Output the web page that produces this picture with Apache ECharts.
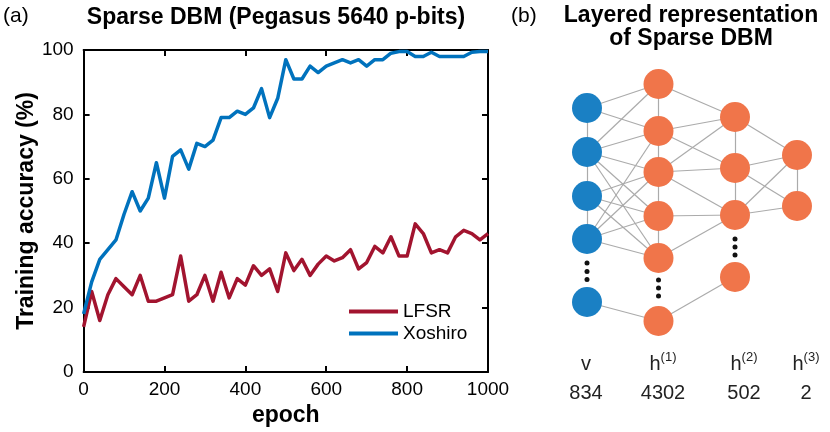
<!DOCTYPE html>
<html><head><meta charset="utf-8">
<script src="https://cdn.jsdelivr.net/npm/echarts@6/dist/echarts.min.js"></script>
<style>html,body{margin:0;padding:0;background:#fff}#c{width:830px;height:432px}</style>
</head><body><div id="c"></div>
<script>
// ---------- Panel (a) data ----------
const epochs = [0,20,40,60,80,100,120,140,160,180,200,220,240,260,280,300,320,340,360,380,400,420,440,460,480,500,520,540,560,580,600,620,640,660,680,700,720,740,760,780,800,820,840,860,880,900,920,940,960,980,1000];
const lfsr = [14,25,16,24,29,26.5,24,30,22,22,23,24,36,22,24,30,22,31,23,29,27,33,30,32,25,37,31.5,35,30,33.5,36,34.5,35.5,38,32,34,39,37,42,36,36,46,43,37,38,37,42,44,43,41,43];
const xoshiro = [18,28,35,38,41,49,56,50,54,65,54,67,69,63,71,70,72,79,79,81,80,82,88,79,85,97,91,91,95,93,95,96,97,96,97,95,97,97,99,99.5,99.5,98,98,99.3,98,98,98,98,99.3,99.5,99.5];
const seriesNames = ['LFSR','Xoshiro'];

// ---------- Panel (b) data ----------
const layerNames = ['v','h','h','h'];
const layerSup = ['','(1)','(2)','(3)'];
const layerSizes = ['834','4302','502','2'];
// edges: [layerA, nodeA, layerB, nodeB]
const edges = [
  [0,0,0,1],[0,1,0,2],[0,2,0,3],
  [1,0,1,1],[1,1,1,2],[1,2,1,3],[1,3,1,4],
  [2,0,2,1],[2,1,2,2],[3,0,3,1],
  [0,0,1,0],[0,0,1,1],[0,1,1,0],[0,1,1,1],[0,1,1,2],[0,1,1,3],[0,1,1,4],
  [0,2,1,2],[0,2,1,3],[0,2,1,4],[0,3,1,1],[0,3,1,2],[0,3,1,3],[0,3,1,4],[0,4,1,5],
  [1,0,2,0],[1,1,2,0],[1,1,2,1],[1,2,2,0],[1,2,2,1],[1,2,2,2],[1,3,2,2],[1,4,2,2],[1,5,2,3],
  [2,0,3,0],[2,1,3,0],[2,1,3,1],[2,2,3,0],[2,2,3,1]
];

// ---------- Diagram layout (diagram units) ----------
const layerX = [27, 98.5, 175, 237];
const layerNodeY = [[48,92,136,179,242],[24,71,112,156,198,261],[57,108,155,217],[95,146]];
const ellipsisLayers = [0,1,2];
const ellipsisY = [[203,211.5,219.5],[220,228,236],[179,187,195]];
const labelX = [26, 103, 184, 246];
const labelY = 319;

const FONT = 'Liberation Sans';
const BLUE_NODE = '#1A80C4', ORANGE_NODE = '#F0754A';
const colors = {LFSR:'#A2142F', Xoshiro:'#0072BD'};

const nodes = [], idx = {};
layerNodeY.forEach((ys,l)=>ys.forEach((y,k)=>{
  idx[l+'-'+k] = nodes.length;
  nodes.push({value:[layerX[l], y], itemStyle:{color: l===0 ? BLUE_NODE : ORANGE_NODE, opacity:1}});
}));
const links = edges.map(e=>({source: idx[e[0]+'-'+e[1]], target: idx[e[2]+'-'+e[3]]}));
const dots = [];
ellipsisLayers.forEach((l,i)=>ellipsisY[i].forEach(y=>dots.push([layerX[l], y])));

const axisLineStyle = {color:'#000', width:2};
function boxAxis(extra){
  return Object.assign({
    gridIndex:0, type:'value',
    axisLine:{show:true, onZero:false, lineStyle:axisLineStyle},
    axisTick:{show:true, inside:true, length:6, lineStyle:{color:'#000', width:2}},
    splitLine:{show:false}
  }, extra);
}

const chart = echarts.init(document.getElementById('c'), null, {renderer:'canvas'});
chart.setOption({
  animation:false,
  backgroundColor:'#fff',
  textStyle:{fontFamily:FONT},
  title:[
    {text:'(a)', left:3, top:6, padding:0, textStyle:{fontFamily:FONT, fontSize:21, fontWeight:'normal', color:'#000'}},
    {text:'Sparse DBM (Pegasus 5640 p-bits)', left:276, top:6, padding:0, textAlign:'center', textStyle:{fontFamily:FONT, fontSize:23, fontWeight:'bold', color:'#000'}},
    {text:'(b)', left:511, top:6, padding:0, textStyle:{fontFamily:FONT, fontSize:21, fontWeight:'normal', color:'#000'}},
    {text:'Layered representation\nof Sparse DBM', left:691, top:4, padding:0, textAlign:'center', textStyle:{fontFamily:FONT, fontSize:23, fontWeight:'bold', color:'#000', lineHeight:23}}
  ],
  legend:{
    data:seriesNames, orient:'vertical', left:349, top:302, padding:0,
    itemWidth:49, itemHeight:4, itemGap:3, icon:'rect',
    textStyle:{fontFamily:FONT, fontSize:19, color:'#000'}
  },
  grid:[
    {left:65, top:50, width:423, height:322},
    {left:560, top:60, width:260, height:340}
  ],
  xAxis:[
    boxAxis({position:'bottom', min:0, max:1000, interval:200,
      name:'epoch', nameLocation:'middle', nameGap:28,
      nameTextStyle:{fontFamily:FONT, fontSize:23, fontWeight:'bold', color:'#000'},
      axisLabel:{fontFamily:FONT, fontSize:19, color:'#000', margin:8, formatter:v=>String(v)}}),
    boxAxis({position:'top', min:0, max:1000, interval:200, axisLabel:{show:false}}),
    {gridIndex:1, type:'value', min:0, max:260, show:false}
  ],
  yAxis:[
    boxAxis({position:'left', min:0, max:100, interval:20,
      name:'Training accuracy (%)', nameLocation:'middle', nameGap:40,
      nameTextStyle:{fontFamily:FONT, fontSize:23, fontWeight:'bold', color:'#000'},
      axisLabel:{fontFamily:FONT, fontSize:19, color:'#000', margin:10, formatter:v=>String(v)}}),
    boxAxis({position:'right', min:0, max:100, interval:20, axisLabel:{show:false}}),
    {gridIndex:1, type:'value', min:0, max:340, inverse:true, show:false}
  ],
  series:[
    {name:'LFSR', type:'line', xAxisIndex:0, yAxisIndex:0, data:epochs.map((e,i)=>[e,lfsr[i]]),
     symbol:'none', clip:false, lineStyle:{color:colors.LFSR, width:3.5, join:'round'}, itemStyle:{color:colors.LFSR}},
    {name:'Xoshiro', type:'line', xAxisIndex:0, yAxisIndex:0, data:epochs.map((e,i)=>[e,xoshiro[i]]),
     symbol:'none', clip:false, lineStyle:{color:colors.Xoshiro, width:3.5, join:'round'}, itemStyle:{color:colors.Xoshiro}},
    {name:'network', type:'graph', coordinateSystem:'cartesian2d', xAxisIndex:2, yAxisIndex:2,
     symbolSize:30, data:nodes, links:links, silent:true,
     lineStyle:{color:'#ABABAB', width:1.2, opacity:1}, label:{show:false}},
    {name:'ellipsis', type:'scatter', xAxisIndex:2, yAxisIndex:2, data:dots, symbolSize:5,
     itemStyle:{color:'#111', opacity:1}, silent:true},
    {name:'layers', type:'scatter', xAxisIndex:2, yAxisIndex:2, silent:true,
     data:labelX.map((x,i)=>[x,labelY]), symbolSize:1, itemStyle:{color:'rgba(0,0,0,0)', opacity:1},
     label:{show:true, position:'inside', align:'center', verticalAlign:'middle', opacity:1,
       formatter:p=>{const i=p.dataIndex; return '{n|'+layerNames[i]+'}'+(layerSup[i]?'{sup|'+layerSup[i]+'}':'')+'\n{s|'+layerSizes[i]+'}';},
       rich:{
         n:{fontFamily:FONT, fontSize:20, color:'#222', lineHeight:28.5},
         sup:{fontFamily:FONT, fontSize:13, color:'#222', lineHeight:19, verticalAlign:'top'},
         s:{fontFamily:FONT, fontSize:20, color:'#222', lineHeight:28.5}
       }}}
  ]
});
</script></body></html>
